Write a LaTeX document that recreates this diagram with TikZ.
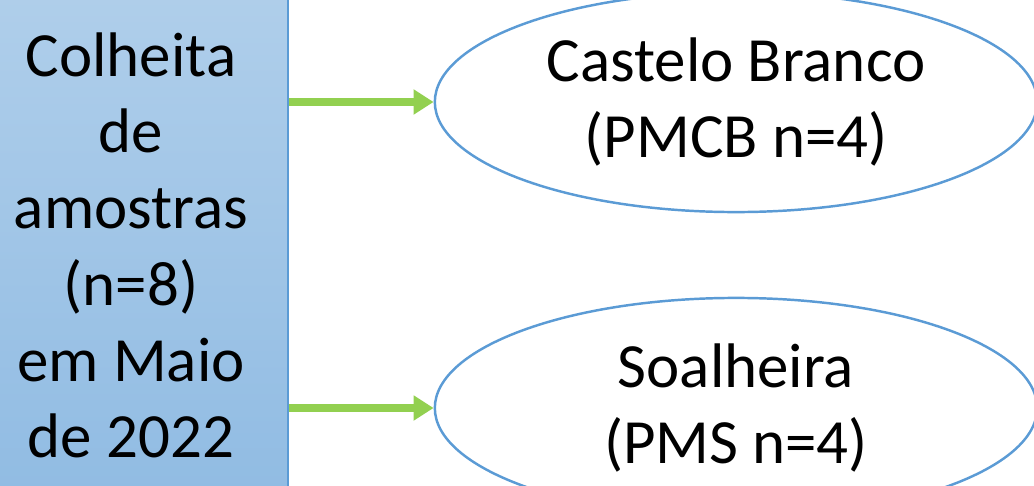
\documentclass[tikz,border=0pt]{standalone}
\usepackage{fontspec}
\setmainfont{Carlito}
\usetikzlibrary{shapes.geometric,arrows.meta}
\definecolor{azulcaixa}{HTML}{5B9BD5}
\definecolor{verdeseta}{HTML}{92D050}
\begin{document}
\begin{tikzpicture}[x=0.01cm, y=-0.01cm,
  texto/.style={font=\fontsize{17.9}{21.7}\selectfont, align=center, text=black},
  caixa/.style={texto, rectangle, draw=azulcaixa, line width=0.5pt, top color=azulcaixa!48, bottom color=azulcaixa!68, minimum width=3.14cm, minimum height=5.4cm, inner sep=0pt},
  regiao/.style={texto, ellipse, draw=azulcaixa, line width=0.7pt, minimum width=6.02cm, minimum height=2.2cm, inner sep=0pt},
  seta/.style={draw=verdeseta, line width=2.3pt, -{Triangle[length=0.2cm,width=0.24cm]}}]
\useasboundingbox (0,0) rectangle (1034,485);
\node[caixa] (colheita) at (131,245.5) {Colheita\\de\\amostras\\(n=8)\\em Maio\\de 2022};
\node[regiao] (castelo) at (736,102) {Castelo Branco\\(PMCB n=4)};
\node[regiao] (soalheira) at (736,408) {Soalheira\\(PMS n=4)};
\draw[seta] (colheita.east |- castelo.west) -- (castelo.west);
\draw[seta] (colheita.east |- soalheira.west) -- (soalheira.west);
\end{tikzpicture}
\end{document}
